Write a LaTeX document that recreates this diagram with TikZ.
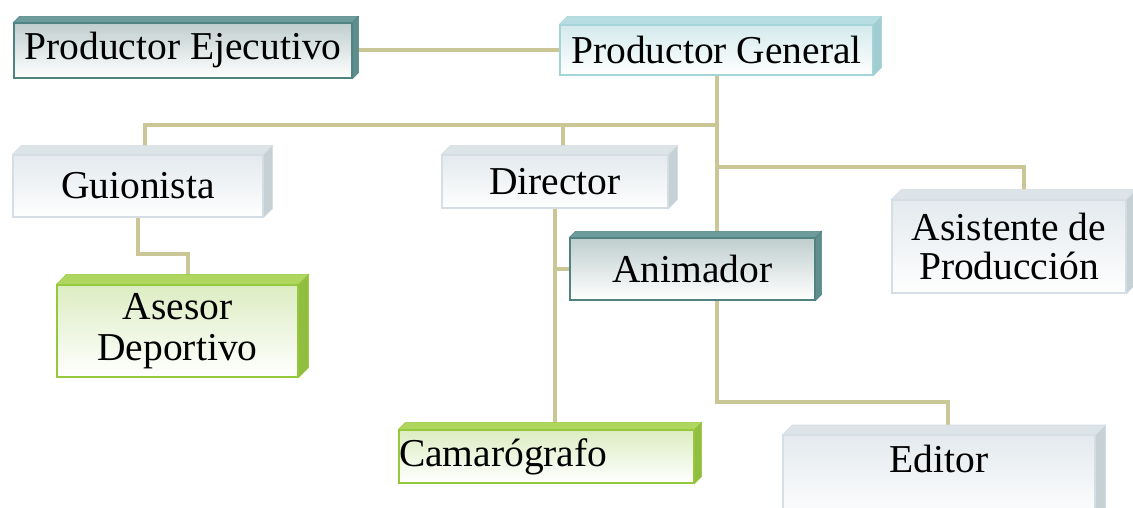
\documentclass[tikz,border=0pt]{standalone}
\usepackage{fontspec}
\setmainfont{Liberation Serif}
\usepackage{xcolor}
\usepackage{tikz}
\usetikzlibrary{positioning}
\pgfdeclarelayer{paper}
\pgfdeclarelayer{links}
\pgfsetlayers{paper,links,main}
\definecolor{tealline}{RGB}{80,130,130}
\definecolor{tealtop}{RGB}{110,155,155}
\definecolor{tealside}{RGB}{95,140,140}
\definecolor{tealfront}{RGB}{192,206,206}
\definecolor{cyanline}{RGB}{165,212,216}
\definecolor{cyantop}{RGB}{182,222,226}
\definecolor{cyanside}{RGB}{160,205,210}
\definecolor{cyanfront}{RGB}{212,234,236}
\definecolor{grayline}{RGB}{212,222,228}
\definecolor{graytop}{RGB}{220,228,232}
\definecolor{grayside}{RGB}{198,209,214}
\definecolor{grayfront}{RGB}{228,234,238}
\definecolor{greenline}{RGB}{150,200,60}
\definecolor{greentop}{RGB}{175,215,95}
\definecolor{greenside}{RGB}{145,190,65}
\definecolor{greenfront}{RGB}{220,237,194}
\definecolor{linkcolor}{RGB}{202,198,150}
\tikzset{
    box/.style={rectangle, draw, line width=1.2pt, inner sep=0pt, align=center, font=\fontsize{39.5}{40}\selectfont},
    tealbox/.style={box, draw=tealline, top color=tealfront, bottom color=white},
    cyanbox/.style={box, draw=cyanline, top color=cyanfront, bottom color=white},
    graybox/.style={box, draw=grayline, top color=grayfront, bottom color=white!96!grayfront},
    greenbox/.style={box, draw=greenline, top color=greenfront, bottom color=white},
    link/.style={draw=linkcolor, line width=4pt}
}

\begin{document}
\begin{tikzpicture}[x=1pt, y=-1pt]
    \useasboundingbox (0,0) rectangle (1133,508);
    \clip (0,0) rectangle (1133,508);
    \begin{pgfonlayer}{paper}
        \fill[white] (0,0) rectangle (1133,508);
    \end{pgfonlayer}

    % boxes
    \node[tealbox, minimum width=338pt, minimum height=55pt] (pe) at (183,50.5) {Productor Ejecutivo};
    \node[cyanbox, minimum width=313pt, minimum height=50pt] (pg) at (716.5,50) {Productor General};
    \node[graybox, minimum width=250pt, minimum height=62pt] (gui) at (138,186) {Guionista};
    \node[greenbox, minimum width=241pt, minimum height=92pt] (ase) at (177.5,331) {Asesor\\[1pt]Deportivo};
    \node[graybox, minimum width=234pt, minimum height=93pt] (asi) at (1009,246.5) {Asistente de\\[-1pt]Producción};
    \node[graybox, minimum width=226pt, minimum height=53pt] (dir) at (555,181.5) {Director};
    \node[tealbox, minimum width=245pt, minimum height=62pt] (ani) at (692.5,269) {Animador};
    \node[greenbox, minimum height=53pt, text width=295pt, align=left] (cam) at (546.5,456.5) {Camarógrafo};
    \node[graybox, anchor=north, minimum width=312pt, text height=37pt, text depth=48pt] (edi) at (939,435) {Editor};

    % 3d top and right faces
    \foreach \n/\d/\col in {pe/6/teal, pg/8/cyan, gui/9/gray, ase/10/green, dir/9/gray, ani/6/teal, asi/10/gray, cam/7/green, edi/10/gray} {
        \filldraw[fill=\col top, draw=\col line, line width=0.6pt]
            (\n.north west) -- ++(\d,-\d) -- ([shift={(\d,-\d)}]\n.north east) -- (\n.north east) -- cycle;
        \filldraw[fill=\col side, draw=\col line, line width=0.6pt]
            (\n.north east) -- ++(\d,-\d) -- ([shift={(\d,-\d)}]\n.south east) -- (\n.south east) -- cycle;
    }

    % connectors
    \coordinate (bus-gui) at (145,125);
    \coordinate (bus-dir) at (563,125);
    \coordinate (elbow) at (948,402);
    \begin{pgfonlayer}{links}
        \draw[link] (pe.east) -- (pe.east -| pg.west);
        \draw[link] (pg.south) |- (elbow) -- (elbow |- edi.north);
        \draw[link] (pg.south |- bus-gui) -- (bus-gui) -- (bus-gui |- gui.north);
        \draw[link] (bus-dir) -- (bus-dir |- dir.north);
        \draw[link] (pg.south |- 0,167) -| ([xshift=15pt]asi.north);
        \draw[link] (gui.south) -- ++(0,36) -| ([xshift=10pt]ase.north);
        \draw[link] (dir.south) -- (dir.south |- cam.north);
        \draw[link] (dir.south |- ani.west) -- (ani.west);
    \end{pgfonlayer}
\end{tikzpicture}
\end{document}
